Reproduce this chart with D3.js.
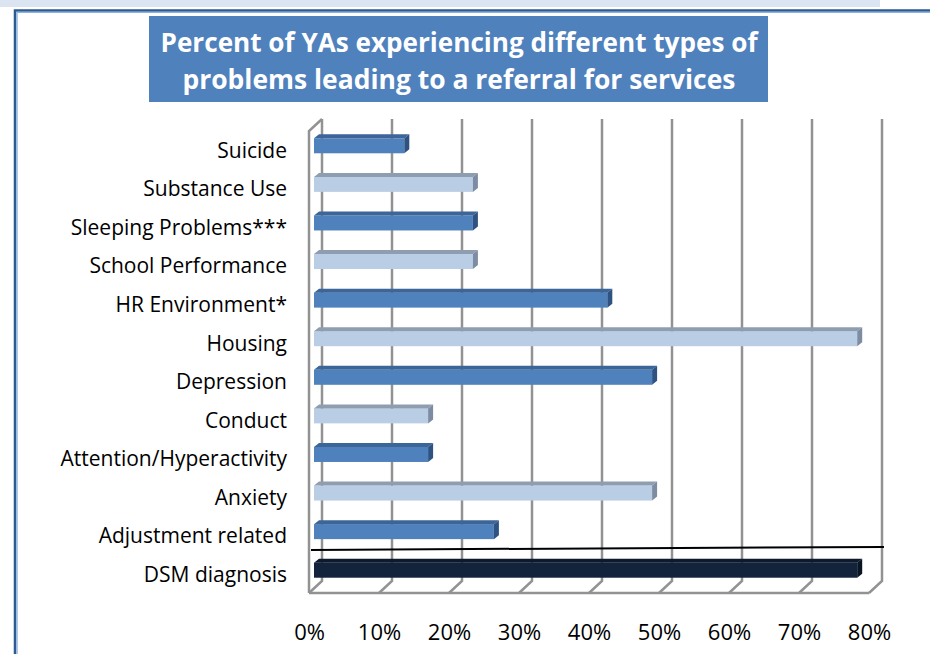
<!DOCTYPE html>
<html>
<head>
<meta charset="utf-8">
<script src="https://cdn.jsdelivr.net/npm/d3@7"></script>
<style>
  body { margin: 0; background: #fff; font-family: "Open Sans", sans-serif; }
  svg { display: block; }
</style>
</head>
<body>
<svg id="chart"></svg>
<script>
// data (percent)
const categories = [
  "Suicide", "Substance Use", "Sleeping Problems***", "School Performance",
  "HR Environment*", "Housing", "Depression", "Conduct",
  "Attention/Hyperactivity", "Anxiety", "Adjustment related", "DSM diagnosis"
]
const values = [12.9, 22.7, 22.7, 22.7, 41.9, 77.6, 48.3, 16.3, 16.3, 48.3, 25.7, 77.6]
const tickValues = [0, 10, 20, 30, 40, 50, 60, 70, 80]
const titleLines = [
  "Percent of YAs experiencing different types of",
  "problems leading to a referral for services"
]

const width = 930, height = 654

const svg = d3.select("#chart")
  .attr("width", width)
  .attr("height", height)

// slide decoration: pale band on top and blue frame
svg.append("rect")
  .attr("x", 0).attr("y", 0)
  .attr("width", 880).attr("height", 7)
  .attr("fill", "#dbe5f1")
svg.append("path")
  .attr("d", `M15,${height} V10.5 H${width}`)
  .attr("fill", "none").attr("stroke", "#2c5a92").attr("stroke-width", 2.5)
svg.append("path")
  .attr("d", `M17,${height} V12.4 H${width}`)
  .attr("fill", "none").attr("stroke", "#8db3e2").attr("stroke-width", 1.4)

// title box
svg.append("rect")
  .attr("x", 149).attr("y", 16)
  .attr("width", 619).attr("height", 86)
  .attr("fill", "#4f81bd")
const titleWidths = [597, 553]
svg.selectAll(".title")
  .data(titleLines)
  .join("text")
    .attr("class", "title")
    .attr("x", 459)
    .attr("y", (d, i) => 52 + i * 37)
    .attr("text-anchor", "middle")
    .attr("textLength", (d, i) => titleWidths[i])
    .attr("lengthAdjust", "spacingAndGlyphs")
    .attr("fill", "#fff")
    .style("font-family", "'Open Sans', sans-serif")
    .style("font-weight", 700)
    .style("font-size", "26px")
    .text(d => d)

// scales: back wall, front edge of floor, bar front faces
const xBack = d3.scaleLinear().domain([0, 80]).range([322, 882])
const xFront = d3.scaleLinear().domain([0, 80]).range([309, 869])
const xBar = d3.scaleLinear().domain([0, 80]).range([314, 874])
const y = d3.scaleBand().domain(categories).range([131, 594])
const depth = { dx: 13, dy: 12 }
const barDepth = { dx: 5, dy: 4 }
const barH = 15

const yTop = y.range()[0], yBottom = y.range()[1] - 1
const grid = svg.append("g")
  .attr("fill", "none")
  .attr("stroke", "#929292")
  .attr("stroke-width", 2.5)

// back wall gridlines + floor diagonals
grid.selectAll(".vgrid")
  .data(tickValues)
  .join("path")
    .attr("d", t => `M${xBack(t)},${yTop - depth.dy} V${yBottom - depth.dy} L${xFront(t)},${yBottom}`)
// floor front edge
grid.append("path")
  .attr("d", `M${xFront(0)},${yBottom} H${xFront(80)}`)
// left side wall
grid.append("path")
  .attr("d", `M${xFront(0)},${yBottom} V${yTop} L${xBack(0)},${yTop - depth.dy}`)

// bars
const palette = {
  dark: { front: "#4f81bd", top: "#3c6598", side: "#2e5282" },
  light: { front: "#b9cde5", top: "#8f9db1", side: "#7d8ca2" },
  navy: { front: "#12233b", top: "#0e1b2f", side: "#0a1524" }
}
const last = categories.length - 1
const colorOf = i => i === last ? palette.navy : (i % 2 === 0 ? palette.dark : palette.light)

const bars = svg.append("g")
  .selectAll("g")
  .data(categories.map((c, i) => ({ c, v: values[i], i })))
  .join("g")

const frontTop = d => y(d.c) + y.bandwidth() / 2 - 12
bars.append("rect")
  .attr("x", xBar(0))
  .attr("y", d => frontTop(d))
  .attr("width", d => xBar(d.v) - xBar(0))
  .attr("height", barH)
  .attr("fill", d => colorOf(d.i).front)
bars.append("path")
  .attr("d", d => {
    const x0 = xBar(0), x1 = xBar(d.v), t = frontTop(d)
    return `M${x0},${t} L${x0 + barDepth.dx},${t - barDepth.dy} L${x1 + barDepth.dx},${t - barDepth.dy} L${x1},${t} Z`
  })
  .attr("fill", d => colorOf(d.i).top)
bars.append("path")
  .attr("d", d => {
    const x1 = xBar(d.v), t = frontTop(d)
    return `M${x1},${t} L${x1 + barDepth.dx},${t - barDepth.dy} L${x1 + barDepth.dx},${t - barDepth.dy + barH} L${x1},${t + barH} Z`
  })
  .attr("fill", d => colorOf(d.i).side)

// separator line between DSM diagnosis and the problem types
const sepY = (frontTop({ c: categories[last - 1] }) + barH + frontTop({ c: categories[last] }) - barDepth.dy) / 2
svg.append("line")
  .attr("x1", xFront(0) + 2).attr("y1", sepY + 1)
  .attr("x2", xBack(80) + 2).attr("y2", sepY - 2)
  .attr("stroke", "#000")
  .attr("stroke-width", 2)

// category labels
svg.append("g")
  .selectAll("text")
  .data(categories)
  .join("text")
    .attr("x", 287)
    .attr("y", d => y(d) + y.bandwidth() / 2)
    .attr("dy", "0.35em")
    .attr("text-anchor", "end")
    .attr("fill", "#000")
    .style("font-size", "21px")
    .text(d => d)

// x axis labels
const xAxis = d3.axisBottom(xFront)
  .tickValues(tickValues)
  .tickSize(0)
  .tickFormat(d => d + "%")
const axisG = svg.append("g")
  .attr("transform", "translate(0,640)")
  .call(xAxis)
axisG.select(".domain").remove()
axisG.selectAll("text")
  .attr("y", 0)
  .attr("dy", 0)
  .attr("fill", "#000")
  .style("font-family", "'Open Sans', sans-serif")
  .style("font-size", "22px")
</script>
</body>
</html>
